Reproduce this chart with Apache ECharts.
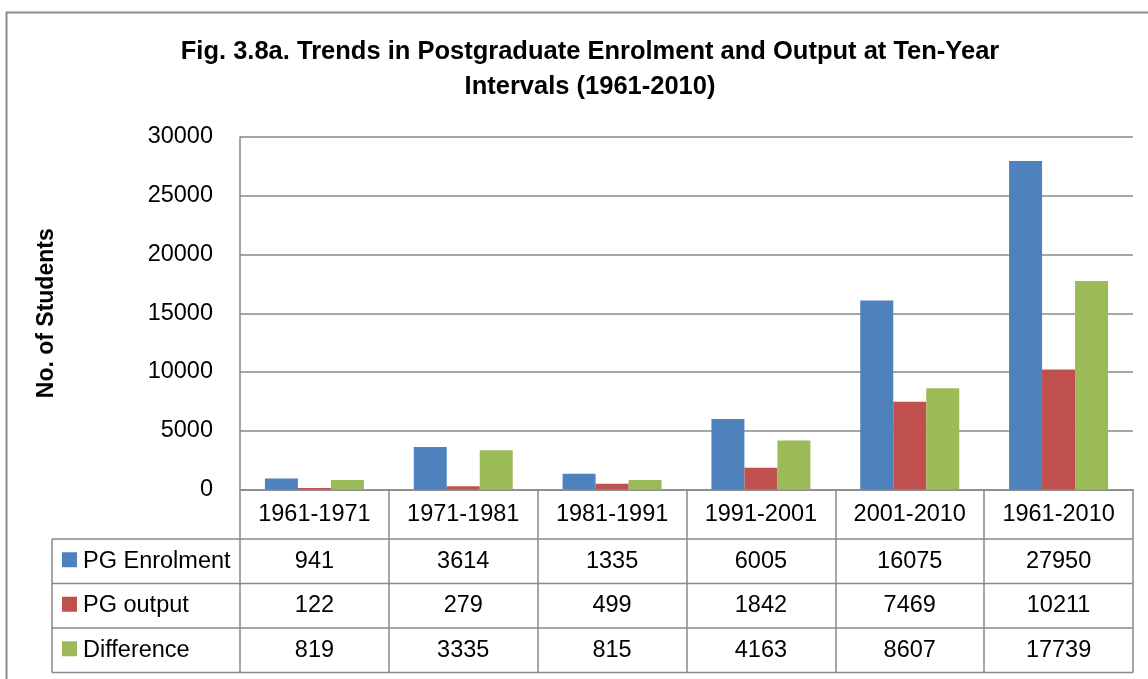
<!DOCTYPE html>
<html>
<head>
<meta charset="utf-8">
<title>Fig. 3.8a</title>
<style>
  html, body { margin: 0; padding: 0; background: #fff; }
  #main { width: 1148px; height: 679px; }
</style>
</head>
<body>
<div id="main"></div>
<script src="https://cdn.jsdelivr.net/npm/echarts@6/dist/echarts.min.js"></script>
<script>
  // data
  var periods = ['1961-1971', '1971-1981', '1981-1991', '1991-2001', '2001-2010', '1961-2010'];
  var seriesNames = ['PG Enrolment', 'PG output', 'Difference'];
  var enrolment = [941, 3614, 1335, 6005, 16075, 27950];
  var output = [122, 279, 499, 1842, 7469, 10211];
  var difference = [819, 3335, 815, 4163, 8607, 17739];
  var colors = ['#4F81BD', '#C0504D', '#9BBB59'];

  var FONT = 'Liberation Sans, Arial, sans-serif';
  var LINE = '#898989';

  // table layout (below the axis)
  var gridLeft = 240, gridRight = 15, gridTop = 137, gridBottom = 189.5;
  var headH = 49.5, rowH = 44.5, tableLeft = 52;

  var myChart = echarts.init(document.getElementById('main'));

  var allRows = [enrolment, output, difference];
  var series = [];
  for (var i = 0; i < allRows.length; i++) {
    series.push({
      name: seriesNames[i],
      type: 'bar',
      data: allRows[i],
      barGap: '0%',
      barCategoryGap: '33.5%',
      itemStyle: { color: colors[i] }
    });
  }

  var option = {
    animation: false,
    color: colors,
    title: {
      text: 'Fig. 3.8a. Trends in Postgraduate Enrolment and Output at Ten-Year\nIntervals (1961-2010)',
      left: 585,
      top: 29,
      textAlign: 'center',
      textStyle: {
        fontFamily: FONT,
        fontWeight: 'bold',
        fontSize: 25.5,
        lineHeight: 35,
        color: '#000'
      }
    },
    grid: { left: gridLeft, right: gridRight, top: gridTop, bottom: gridBottom },
    xAxis: {
      type: 'category',
      data: periods,
      axisLine: { lineStyle: { color: LINE, width: 1.5 } },
      axisTick: {
        show: true,
        length: headH + rowH * 3,
        lineStyle: { color: LINE, width: 1.5 }
      },
      axisLabel: {
        margin: 25,
        verticalAlign: 'middle',
        fontFamily: FONT,
        fontSize: 23.5,
        color: '#000'
      }
    },
    yAxis: {
      type: 'value',
      min: 0,
      max: 30000,
      interval: 5000,
      name: 'No. of Students',
      nameLocation: 'middle',
      nameGap: 182,
      nameRotate: 90,
      nameTextStyle: {
        fontFamily: FONT,
        fontWeight: 'bold',
        fontSize: 23,
        color: '#000'
      },
      axisLine: { show: true, lineStyle: { color: LINE, width: 1.5 } },
      axisTick: { show: false },
      splitLine: { lineStyle: { color: LINE, width: 1.5 } },
      axisLabel: {
        margin: 27,
        fontFamily: FONT,
        fontSize: 23.5,
        color: '#000',
        formatter: function (v) { return String(v); }
      }
    },
    series: series
  };
  myChart.setOption(option);

  // data table drawn under the plot, aligned on the category axis
  function buildTable() {
    var w = myChart.getWidth(), h = myChart.getHeight();
    var axisY = h - gridBottom;
    var tableRight = w - gridRight;
    var els = [];

    // outer frame
    els.push({
      type: 'rect',
      shape: { x: 6.5, y: 12.5, width: w + 20, height: h + 20 },
      style: { fill: 'none', stroke: '#8c8c8c', lineWidth: 2 },
      silent: true
    });

    // horizontal table lines
    for (var r = 0; r <= 3; r++) {
      var y = axisY + headH + rowH * r;
      els.push({
        type: 'line',
        shape: { x1: tableLeft, y1: y, x2: tableRight, y2: y },
        style: { stroke: LINE, lineWidth: 1.5 },
        silent: true
      });
    }
    // left edge of the legend column
    els.push({
      type: 'line',
      shape: { x1: tableLeft, y1: axisY + headH, x2: tableLeft, y2: axisY + headH + rowH * 3 },
      style: { stroke: LINE, lineWidth: 1.5 },
      silent: true
    });

    for (var s = 0; s < allRows.length; s++) {
      var cy = axisY + headH + rowH * s + rowH / 2;
      els.push({
        type: 'rect',
        shape: { x: 62, y: cy - 9, width: 15, height: 15 },
        style: { fill: colors[s] },
        silent: true
      });
      els.push({
        type: 'text',
        x: 83, y: cy,
        style: {
          text: seriesNames[s],
          font: '23.5px ' + FONT,
          fill: '#000',
          textAlign: 'left',
          textVerticalAlign: 'middle'
        },
        silent: true
      });
      for (var c = 0; c < periods.length; c++) {
        var cx = myChart.convertToPixel({ xAxisIndex: 0 }, periods[c]);
        els.push({
          type: 'text',
          x: cx, y: cy,
          style: {
            text: String(allRows[s][c]),
            font: '23.5px ' + FONT,
            fill: '#000',
            textAlign: 'center',
            textVerticalAlign: 'middle'
          },
          silent: true
        });
      }
    }
    myChart.setOption({ graphic: els });
  }
  buildTable();
</script>
</body>
</html>
